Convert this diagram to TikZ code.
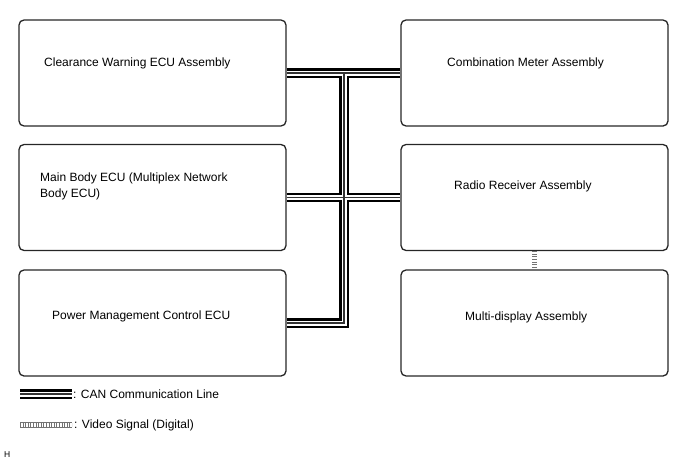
\documentclass[tikz,border=0pt]{standalone}
\usepackage{fontspec}
\setmainfont{Liberation Sans}
\usetikzlibrary{positioning}

\begin{document}
\begin{tikzpicture}[x=1pt, y=-1pt,
    ecubox/.style={draw=black!85, line width=1.3pt, rounded corners=5pt,
        minimum width=267pt, minimum height=106pt, inner sep=0pt},
    ecutext/.style={anchor=west, inner sep=0pt, align=left,
        font=\fontsize{12}{16}\selectfont},
    vidrail/.style={draw=black!55, double=white, double distance=4.2pt, line width=0.8pt},
    vidrung/.style={draw=black!55, line width=4.2pt, dash pattern=on 0.7pt off 1.9pt}]
             \useasboundingbox (0,0) rectangle (688,463);

             % left column
             \node[ecubox] (cw) at (152.5, 73) {};
             \node[ecubox] (mb) at (152.5, 197.5) {};
             \node[ecubox] (pm) at (152.5, 323) {};
             % right column
             \node[ecubox] (cm) at (534.5, 73) {};
             \node[ecubox] (rr) at (534.5, 197.5) {};
             \node[ecubox] (md) at (534.5, 323) {};

             \node[ecutext] (cwtext) at (44, 63) {Clearance Warning ECU Assembly};
             \node[ecutext] (mbtext) at (40, 186) {Main Body ECU (Multiplex Network\\Body ECU)};
             \node[ecutext] (pmtext) at (52, 316) {Power Management Control ECU};
             \node[ecutext] (cmtext) at (447, 63) {Combination Meter Assembly};
             \node[ecutext] (rrtext) at (454, 186) {Radio Receiver Assembly};
             \node[ecutext] (mdtext) at (465, 317) {Multi-display Assembly};

             % CAN bus
             \coordinate (bus) at (344, 0);
             \coordinate (canA) at (20, 394);
             \coordinate (canB) at (72, 394);
             \foreach \w/\c in {9.4/black, 5/white, 1.1/black!80} {
               \draw[line width=\w pt, \c] (cw.east) -- (cm.west);
               \draw[line width=\w pt, \c] (mb.east) -- (rr.west);
               \draw[line width=\w pt, \c] (bus |- cw.east) -- (bus |- pm.east) -- (pm.east);
               \draw[line width=\w pt, \c] (canA) -- (canB);
             }

             % video signal
             \coordinate (vidA) at (20, 425);
             \coordinate (vidB) at (72, 425);
             \draw[vidrail] (rr.south) -- (md.north);
             \draw[vidrung] (rr.south) -- (md.north);
             \draw[vidrail] (vidA) -- (vidB);
             \draw[vidrung] (vidA) -- (vidB);

             % legend
             \node[ecutext] (cantext) at (73, 394) {: CAN Communication Line};
             \node[ecutext] (vidtext) at (74, 425) {: Video Signal (Digital)};
             \node[anchor=west, inner sep=0pt, font=\fontsize{8.5}{10}\selectfont] (hmark) at (4, 455) {H};
             \end{tikzpicture}
\end{document}
